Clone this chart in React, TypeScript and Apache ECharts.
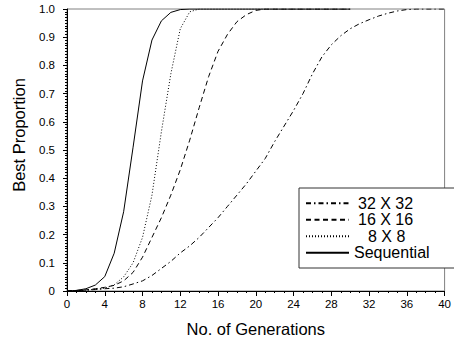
import React, { useEffect, useRef } from "react";
import * as echarts from "echarts";

const gensShort = [0, 1, 2, 3, 4, 5, 6, 7, 8, 9, 10, 11, 12, 13, 14, 15, 16, 17, 18, 19, 20, 21, 22, 23, 24, 25, 26, 27, 28, 29, 30];
const gensLong = [0, 1, 2, 3, 4, 5, 6, 7, 8, 9, 10, 11, 12, 13, 14, 15, 16, 17, 18, 19, 20, 21, 22, 23, 24, 25, 26, 27, 28, 29, 30, 31, 32, 33, 34, 35, 36, 37, 38, 39, 40];

const sequential = [0, 0.002, 0.008, 0.021, 0.051, 0.134, 0.281, 0.51, 0.745, 0.89, 0.958, 0.988, 0.998, 1, 1, 1, 1, 1, 1, 1, 1, 1, 1, 1, 1, 1, 1, 1, 1, 1, 1];
const grid8 = [0, 0.001, 0.003, 0.006, 0.01, 0.022, 0.05, 0.1, 0.19, 0.34, 0.565, 0.77, 0.93, 0.99, 1, 1, 1, 1, 1, 1, 1, 1, 1, 1, 1, 1, 1, 1, 1, 1, 1];
const grid16 = [0, 0.002, 0.004, 0.008, 0.013, 0.02, 0.036, 0.066, 0.12, 0.19, 0.26, 0.34, 0.43, 0.535, 0.65, 0.76, 0.85, 0.91, 0.955, 0.98, 0.995, 1, 1, 1, 1, 1, 1, 1, 1, 1, 1];
const grid32 = [0, 0.001, 0.003, 0.005, 0.008, 0.01, 0.015, 0.025, 0.036, 0.055, 0.08, 0.105, 0.135, 0.16, 0.19, 0.225, 0.26, 0.3, 0.34, 0.38, 0.425, 0.47, 0.53, 0.585, 0.64, 0.7, 0.77, 0.83, 0.873, 0.905, 0.93, 0.948, 0.962, 0.975, 0.985, 0.993, 0.998, 1, 1, 1, 1];

const seriesNames = ["32 X 32", "16 X 16", "8 X 8", "Sequential"];
const xTitle = "No. of Generations";
const yTitle = "Best Proportion";

const FONT = "Liberation Sans, Arial, sans-serif";

function pairs(xs: number[], ys: number[]) {
  return ys.map((y, i) => [xs[i], y]);
}

export default function App() {
  const ref = useRef<HTMLDivElement>(null);
  useEffect(() => {
    if (!ref.current) return;
    const chart = echarts.init(ref.current, null, { renderer: "svg" });
    const lineBase = { type: "line", symbol: "none", smooth: false };
    chart.setOption({
      animation: false,
      backgroundColor: "#fff",
      grid: {
        left: 67,
        right: 8,
        top: 9,
        bottom: 52,
        show: true,
        borderColor: "#808080",
        borderWidth: 1,
        backgroundColor: "#fff",
      },
      xAxis: {
        type: "value",
        min: 0,
        max: 40,
        interval: 4,
        name: xTitle,
        nameLocation: "middle",
        nameGap: 29,
        nameTextStyle: { fontSize: 16.5, fontFamily: FONT, color: "#000" },
        axisLine: { show: true, lineStyle: { color: "#000", width: 1 } },
        axisTick: { show: true, inside: false, length: 5, lineStyle: { color: "#000" } },
        minorTick: { show: true, splitNumber: 4, length: 2, lineStyle: { color: "#000" } },
        axisLabel: { fontSize: 11.5, fontFamily: FONT, color: "#000", margin: 7 },
        splitLine: { show: false },
      },
      yAxis: {
        type: "value",
        min: 0,
        max: 1,
        interval: 0.1,
        axisLine: { show: true, lineStyle: { color: "#000", width: 1 } },
        axisTick: { show: true, inside: false, length: 4, lineStyle: { color: "#000" } },
        minorTick: { show: true, splitNumber: 10, length: 2, lineStyle: { color: "#000" } },
        axisLabel: {
          fontSize: 11.5,
          fontFamily: FONT,
          color: "#000",
          margin: 12,
          formatter: (v: number) => (v === 0 ? "0" : v.toFixed(1)),
        },
        splitLine: { show: false },
      },
      legend: {
        orient: "vertical",
        left: 299,
        top: 188,
        itemWidth: 43,
        itemHeight: 12,
        itemGap: 0,
        padding: [7, 26, 7, 6],
        backgroundColor: "#fff",
        borderColor: "#333",
        borderWidth: 1,
        itemStyle: { opacity: 0 },
        textStyle: { fontSize: 16, fontFamily: FONT, color: "#000", lineHeight: 16.5 },
        data: [
          { name: seriesNames[0], textStyle: { padding: [0, 0, 0, 4] } },
          { name: seriesNames[1], textStyle: { padding: [0, 0, 0, 4] } },
          { name: seriesNames[2], textStyle: { padding: [0, 0, 0, 14] } },
          { name: seriesNames[3] },
        ],
      },
      graphic: [
        {
          type: "text",
          x: 19,
          y: 135,
          rotation: Math.PI / 2,
          style: {
            text: yTitle,
            fontSize: 16.5,
            fontFamily: FONT,
            fill: "#000",
            textAlign: "center",
            textVerticalAlign: "middle",
          },
        },
      ],
      series: [
        {
          ...lineBase,
          name: seriesNames[0],
          data: pairs(gensLong, grid32),
          lineStyle: { color: "#000", width: 1, type: [5, 3, 1.5, 3] },
          itemStyle: { color: "#000" },
          z: 3,
        },
        {
          ...lineBase,
          name: seriesNames[1],
          data: pairs(gensShort, grid16),
          lineStyle: { color: "#000", width: 1, type: [5, 3.5] },
          itemStyle: { color: "#000" },
          z: 3,
        },
        {
          ...lineBase,
          name: seriesNames[2],
          data: pairs(gensShort, grid8),
          lineStyle: { color: "#000", width: 1, type: [1, 2] },
          itemStyle: { color: "#000" },
          z: 3,
        },
        {
          ...lineBase,
          name: seriesNames[3],
          data: pairs(gensShort, sequential),
          lineStyle: { color: "#000", width: 1, type: "solid" },
          itemStyle: { color: "#000" },
          z: 3,
        },
      ],
    });
    return () => chart.dispose();
  }, []);
  return (
    <div
      ref={ref}
      style={{ position: "fixed", left: 0, top: 0, width: 454, height: 343, background: "#fff" }}
    />
  );
}
